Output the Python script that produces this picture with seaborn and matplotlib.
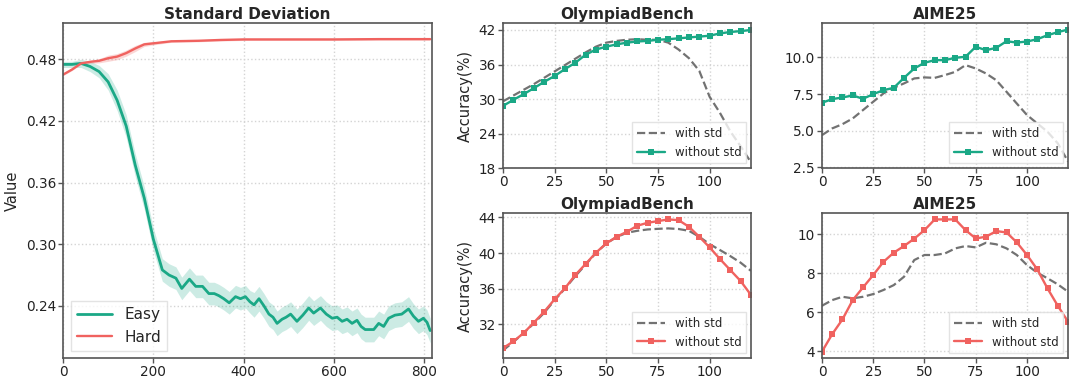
import numpy as np
import pandas as pd
import matplotlib
matplotlib.use("Agg")
import matplotlib.pyplot as plt
import seaborn as sns

# ---------------- data ----------------
easy_steps = [0, 20, 40, 60, 80, 100, 120, 140, 160, 180, 200, 210, 220, 235, 250, 263, 280, 294,
              309, 323, 335, 345, 356, 368, 382, 393, 404, 414, 423, 434, 445, 456, 465, 474, 485,
              494, 504, 518, 531, 544, 555, 570, 583, 596, 607, 618, 629, 640, 651, 660, 669, 678,
              688, 699, 710, 721, 735, 750, 765, 776, 787, 798, 806, 813]
easy_vals = [0.475, 0.475, 0.476, 0.473, 0.468, 0.458, 0.440, 0.415, 0.377, 0.345, 0.305, 0.290,
             0.275, 0.270, 0.267, 0.257, 0.266, 0.259, 0.259, 0.252, 0.252, 0.250, 0.247, 0.243,
             0.249, 0.247, 0.249, 0.244, 0.241, 0.247, 0.240, 0.232, 0.229, 0.223, 0.227, 0.229,
             0.232, 0.225, 0.231, 0.238, 0.233, 0.238, 0.232, 0.228, 0.229, 0.225, 0.227, 0.223,
             0.226, 0.220, 0.217, 0.217, 0.217, 0.223, 0.220, 0.228, 0.231, 0.232, 0.237, 0.230,
             0.225, 0.228, 0.224, 0.216]
easy_band = [0.003, 0.003, 0.004, 0.005, 0.006, 0.008, 0.010, 0.011, 0.011, 0.011, 0.011, 0.011,
             0.011, 0.011, 0.011, 0.011, 0.011, 0.011, 0.011, 0.011, 0.011, 0.011, 0.011, 0.011,
             0.011, 0.011, 0.011, 0.011, 0.012, 0.012, 0.012, 0.012, 0.012, 0.012, 0.012, 0.012,
             0.012, 0.012, 0.012, 0.012, 0.012, 0.012, 0.012, 0.012, 0.012, 0.012, 0.012, 0.012,
             0.012, 0.012, 0.012, 0.012, 0.012, 0.012, 0.012, 0.012, 0.012, 0.012, 0.012, 0.012,
             0.012, 0.012, 0.012, 0.012]

hard_steps = [0, 20, 40, 60, 80, 100, 120, 140, 160, 180, 200, 240, 300, 350, 400, 500, 600, 700, 813]
hard_vals = [0.465, 0.470, 0.476, 0.4775, 0.4785, 0.481, 0.4826, 0.486, 0.4905, 0.4945, 0.4955,
             0.4975, 0.498, 0.4988, 0.4993, 0.4993, 0.4993, 0.4996, 0.4996]
hard_band = [0.001, 0.001, 0.001, 0.0015, 0.002, 0.003, 0.003, 0.003, 0.003, 0.002, 0.0015,
             0.001, 0.001, 0.001, 0.001, 0.001, 0.001, 0.001, 0.001]

bench_steps = [0, 5, 10, 15, 20, 25, 30, 35, 40, 45, 50, 55, 60, 65, 70, 75, 80, 85, 90, 95,
               100, 105, 110, 115, 120]

# Easy set (top row)
oly_easy_with = [29.6, 30.6, 31.6, 32.6, 33.7, 34.8, 35.9, 37.0, 38.1, 39.1, 39.8, 40.1, 40.3,
                 40.4, 40.3, 40.3, 39.8, 38.6, 37.1, 34.9, 30.4, 27.6, 24.4, 21.8, 19.0]
oly_easy_without = [28.8, 29.85, 30.84, 31.9, 33.0, 34.0, 35.2, 36.3, 37.7, 38.6, 39.1, 39.5, 39.8,
                    40.0, 40.1, 40.3, 40.4, 40.55, 40.7, 40.85, 41.0, 41.4, 41.65, 41.8, 42.0]
aime_easy_with = [4.7, 5.16, 5.45, 5.84, 6.41, 6.98, 7.55, 7.93, 8.23, 8.57, 8.64, 8.61, 8.8,
                  9.02, 9.48, 9.25, 8.91, 8.45, 7.66, 6.86, 6.07, 5.5, 4.93, 4.14, 2.9]
aime_easy_without = [6.91, 7.16, 7.27, 7.41, 7.18, 7.5, 7.77, 7.93, 8.61, 9.25, 9.64, 9.82, 9.82,
                     9.98, 10.05, 10.73, 10.5, 10.66, 11.11, 11.02, 11.09, 11.25, 11.52, 11.73, 11.91]

# Hard set (bottom row)
oly_hard_with = [29.05, 30.0, 31.0, 32.1, 33.3, 34.7, 36.0, 37.4, 38.7, 40.0, 41.08, 41.8, 42.28,
                 42.5, 42.65, 42.72, 42.77, 42.7, 42.5, 41.83, 41.0, 40.34, 39.66, 38.92, 38.0]
oly_hard_without = [29.31, 30.06, 31.0, 32.19, 33.42, 34.8, 36.04, 37.53, 38.77, 40.04, 41.08,
                    41.83, 42.39, 43.07, 43.4, 43.59, 43.78, 43.7, 42.95, 41.83, 40.64, 39.33,
                    38.09, 36.86, 35.29]
aime_hard_with = [6.33, 6.62, 6.79, 6.71, 6.79, 6.93, 7.14, 7.39, 7.82, 8.68, 8.94, 8.94, 9.02,
                  9.28, 9.4, 9.33, 9.57, 9.49, 9.28, 8.94, 8.42, 8.03, 7.74, 7.43, 7.05]
aime_hard_without = [3.97, 4.87, 5.63, 6.62, 7.27, 7.91, 8.59, 9.06, 9.4, 9.78, 10.22, 10.77, 10.77,
                     10.77, 10.22, 9.79, 9.88, 10.17, 10.1, 9.59, 8.94, 8.2, 7.22, 6.33, 5.51]

# ---------------- style ----------------
sns.set_style("ticks")
plt.rcParams['font.family'] = ['DejaVu Sans']

GREEN = "#1aa886"
RED = "#f0625f"
GRAY = "#727272"
SPINE = "#555555"

fig = plt.figure(figsize=(10.8, 3.82), dpi=100)

ax0 = fig.add_axes([0.0583, 0.062, 0.3417, 0.877])
ax1 = fig.add_axes([0.4657, 0.560, 0.2296, 0.3796])
ax2 = fig.add_axes([0.7611, 0.560, 0.2278, 0.3796])
ax3 = fig.add_axes([0.4657, 0.0628, 0.2296, 0.3796])
ax4 = fig.add_axes([0.7611, 0.0628, 0.2278, 0.3796])


def style_ax(ax):
    ax.grid(True, color="#d4d4d4", linestyle=":", linewidth=1.0)
    ax.set_axisbelow(True)
    for s in ax.spines.values():
        s.set_color(SPINE)
        s.set_linewidth(1.2)
    ax.tick_params(axis="both", labelsize=9.8, length=3.5, width=1.0, color=SPINE,
                   labelcolor="#222222", pad=1.5)


# ---- left panel ----
easy_df = pd.DataFrame({"step": easy_steps, "value": easy_vals})
hard_df = pd.DataFrame({"step": hard_steps, "value": hard_vals})
e_lo = np.array(easy_vals) - np.array(easy_band)
e_hi = np.array(easy_vals) + np.array(easy_band)
h_lo = np.array(hard_vals) - np.array(hard_band)
h_hi = np.array(hard_vals) + np.array(hard_band)
ax0.fill_between(easy_steps, e_lo, e_hi, color=GREEN, alpha=0.22, linewidth=0)
ax0.fill_between(hard_steps, h_lo, h_hi, color=RED, alpha=0.25, linewidth=0)
sns.lineplot(data=easy_df, x="step", y="value", ax=ax0, color=GREEN, linewidth=2.0, label="Easy")
sns.lineplot(data=hard_df, x="step", y="value", ax=ax0, color=RED, linewidth=1.7, label="Hard")
ax0.set_xlim(0, 817)
ax0.set_ylim(0.189, 0.515)
ax0.set_xticks([0, 200, 400, 600, 800])
ax0.set_yticks([0.24, 0.30, 0.36, 0.42, 0.48])
ax0.set_yticklabels(["0.24", "0.30", "0.36", "0.42", "0.48"])
ax0.set_xlabel("")
ax0.set_ylabel("Value", fontsize=10.5, labelpad=4)
ax0.set_title("Standard Deviation", fontsize=11, fontweight="bold", pad=3)
style_ax(ax0)
leg = ax0.legend(loc="lower left", fontsize=11, frameon=True, handlelength=2.3,
                 borderaxespad=0.5, fancybox=False)
leg.get_frame().set_edgecolor("#dddddd")


def bench(ax, with_vals, without_vals, color, title, ylim, yticks, yticklabels, ylabel):
    dfw = pd.DataFrame({"step": bench_steps, "acc": with_vals})
    dfo = pd.DataFrame({"step": bench_steps, "acc": without_vals})
    sns.lineplot(data=dfw, x="step", y="acc", ax=ax, color=GRAY, linestyle="--",
                 linewidth=1.6, label="with std")
    sns.lineplot(data=dfo, x="step", y="acc", ax=ax, color=color, linewidth=1.7,
                 marker="s", markersize=3.8, markeredgewidth=0, label="without std")
    ax.set_xlim(0, 120)
    ax.set_ylim(*ylim)
    ax.set_xticks([0, 25, 50, 75, 100])
    ax.set_yticks(yticks)
    ax.set_yticklabels(yticklabels)
    ax.set_xlabel("")
    ax.set_ylabel(ylabel, fontsize=10.5, labelpad=4)
    ax.set_title(title, fontsize=11, fontweight="bold", pad=3)
    style_ax(ax)
    lg = ax.legend(loc="lower right", fontsize=8.5, frameon=True, fancybox=False,
                   borderaxespad=0.4, handlelength=2.4)
    lg.get_frame().set_edgecolor("#dddddd")


bench(ax1, oly_easy_with, oly_easy_without, GREEN, "OlympiadBench", (18, 43.2),
      [18, 24, 30, 36, 42], ["18", "24", "30", "36", "42"], "Accuracy(%)")
bench(ax2, aime_easy_with, aime_easy_without, GREEN, "AIME25", (2.45, 12.35),
      [2.5, 5.0, 7.5, 10.0], ["2.5", "5.0", "7.5", "10.0"], "")
bench(ax3, oly_hard_with, oly_hard_without, RED, "OlympiadBench", (28.2, 44.5),
      [32, 36, 40, 44], ["32", "36", "40", "44"], "Accuracy(%)")
bench(ax4, aime_hard_with, aime_hard_without, RED, "AIME25", (3.64, 11.1),
      [4, 6, 8, 10], ["4", "6", "8", "10"], "")

fig.savefig("out.png", dpi=100)
